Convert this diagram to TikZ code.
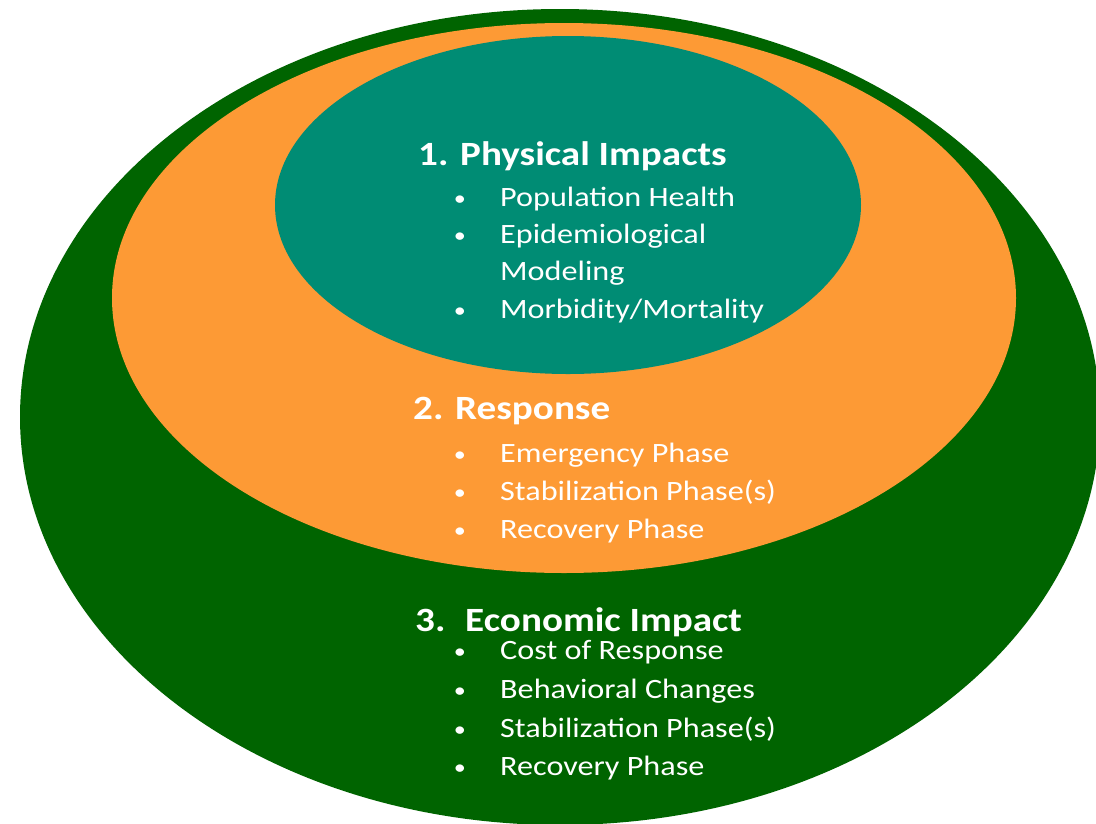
\documentclass[tikz,border=0pt]{standalone}
\usepackage{fontspec}
\setmainfont{Carlito}[FakeStretch=1.15]
\definecolor{outergreen}{RGB}{0,100,0}
\definecolor{midorange}{RGB}{253,154,53}
\definecolor{innerteal}{RGB}{0,140,116}
\begin{document}
\begin{tikzpicture}[x=1pt,y=-1pt,
  head/.style={anchor=base west, inner sep=0pt, text=white, font=\bfseries\fontsize{34}{40}\selectfont},
  item/.style={anchor=base west, inner sep=0pt, text=white, font=\fontsize{28}{34}\selectfont},
  dot/.style={anchor=base, inner sep=0pt, text=white, font=\fontsize{21}{26}\selectfont}]
\useasboundingbox (0,0) rectangle (1096,823);
\clip (0,0) rectangle (1096,823);
\fill[white] (0,0) rectangle (1096,823);
% ellipses
\fill[outergreen] (560,417) ellipse [x radius=540, y radius=408];
\fill[midorange] (564,298) ellipse [x radius=452, y radius=275];
\fill[innerteal] (568,205) ellipse [x radius=293, y radius=169];
% 1
\node[head] (h1) at (418,165) {1. Physical Impacts};
\node[dot] (d11) at (460,205) {•};
\node[item] (t11) at (500,206) {Population Health};
\node[dot] (d12) at (460,242) {•};
\node[item] (t12) at (500,243) {Epidemiological};
\node[item] (t12b) at (500,280) {Modeling};
\node[dot] (d13) at (460,317) {•};
\node[item] (t13) at (500,318) {Morbidity/Mortality};
% 2
\node[head] (h2) at (413,419) {2. Response};
\node[dot] (d21) at (460,461) {•};
\node[item] (t21) at (500,462) {Emergency Phase};
\node[dot] (d22) at (460,499) {•};
\node[item] (t22) at (500,500) {Stabilization Phase(s)};
\node[dot] (d23) at (460,537) {•};
\node[item] (t23) at (500,538) {Recovery Phase};
% 3
\node[head] (h3) at (415,631) {\makebox[50pt][l]{3.}Economic Impact};
\node[dot] (d31) at (460,658) {•};
\node[item] (t31) at (500,659) {Cost of Response};
\node[dot] (d32) at (460,697) {•};
\node[item] (t32) at (500,698) {Behavioral Changes};
\node[dot] (d33) at (460,736) {•};
\node[item] (t33) at (500,737) {Stabilization Phase(s)};
\node[dot] (d34) at (460,774) {•};
\node[item] (t34) at (500,775) {Recovery Phase};
\end{tikzpicture}
\end{document}
